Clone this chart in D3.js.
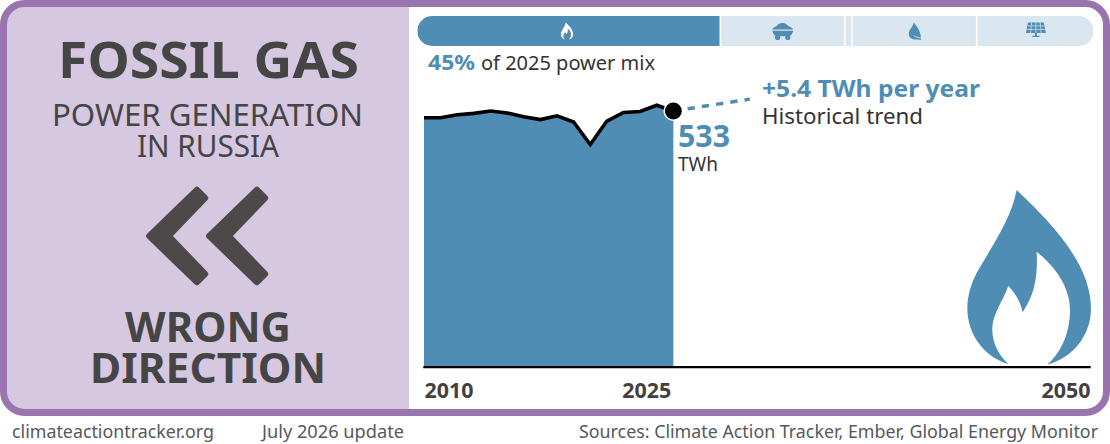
<!DOCTYPE html>
<html>
<head>
<meta charset="utf-8">
<title>Fossil gas power generation in Russia</title>
<script src="https://cdn.jsdelivr.net/npm/d3@7"></script>
<style>
  html, body { margin: 0; padding: 0; background: #fff; overflow: hidden; }
  svg { display: block; font-family: "Noto Sans", sans-serif; }
</style>
</head>
<body>
<svg id="chart" width="1110" height="444"></svg>
<script>
// gas generation, TWh
const years = [2010, 2011, 2012, 2013, 2014, 2015, 2016, 2017, 2018, 2019, 2020, 2021, 2022, 2023, 2024, 2025];
const gasValues = [519, 519, 525, 528, 533, 529, 521, 515, 523, 510, 463, 512, 530, 532, 545, 533];
const trendYears = [2025, 2029.6];
const trendValues = [533, 557.8];
const tickYears = [2010, 2025, 2050];
// power mix shares, %
const mixNames = ['gas', 'coal', 'oil', 'renewables', 'solar'];
const mixShares = [44.8, 18.4, 1.1, 18.4, 17.3];

const blue = '#4f8db5', pale = '#dbe7f0', purple = '#9a74ae', lilac = '#d6c8e0', dark = '#454545', ink = '#333';

const svg = d3.select('#chart');
const x = d3.scaleLinear().domain([2010, 2050]).range([424, 1089]);
const y = d3.scaleLinear().domain([0, 533]).range([366, 111]);
const mixX = d3.scaleLinear().domain([0, 100]).range([417.3, 1093.7]);

// flame outline, traced from the big icon
const flame = 'M230 60C215 140 165 215 115 300C95 335 82 375 82 415C82 500 140 565 205 582C170 550 155 510 157 470C160 430 190 390 205 348C225 370 240 390 248 427C275 385 295 340 290 245C345 290 390 350 390 420C390 500 355 555 322 584C395 565 453 500 453 415C453 280 330 155 230 60Z';

// helper for the fixed labels
function label(str, px, py, size, weight, fill, len, anchor) {
    return svg.append('text')
        .attr('x', px).attr('y', py)
        .attr('font-size', size).attr('font-weight', weight)
        .attr('fill', fill).attr('text-anchor', anchor || 'start')
        .attr('textLength', len).attr('lengthAdjust', 'spacingAndGlyphs')
        .text(str);
}

// frame
const defs = svg.append('defs');
defs.append('clipPath').attr('id', 'frameClip').append('rect')
    .attr('x', 3.5).attr('y', 3.5).attr('width', 1103).attr('height', 409).attr('rx', 21);
defs.append('clipPath').attr('id', 'mixClip').append('rect')
    .attr('x', 417.3).attr('y', 16).attr('width', 676.4).attr('height', 30).attr('rx', 15);

svg.append('rect').attr('x', 0).attr('y', 0).attr('width', 409).attr('height', 416)
    .attr('fill', lilac).attr('clip-path', 'url(#frameClip)');
svg.append('rect')
    .attr('x', 3.5).attr('y', 3.5).attr('width', 1103).attr('height', 409).attr('rx', 21)
    .attr('fill', 'none').attr('stroke', purple).attr('stroke-width', 7);

// left panel
label('FOSSIL GAS', 58, 78, 51, 700, dark, 301);
label('POWER GENERATION', 52, 126, 31, 400, dark, 311);
label('IN RUSSIA', 137, 157, 31, 400, dark, 142);
label('WRONG', 125, 342, 42, 700, dark, 166);
label('DIRECTION', 90, 383, 42, 700, dark, 236);

svg.append('g').selectAll('path').data([0, 60]).join('path')
    .attr('d', 'M150 236L197.5 190L205.5 198L169 236L205.5 274L197.5 282Z')
    .attr('transform', d => `translate(${d - 0.6},0)`)
    .attr('fill', '#4e4949').attr('stroke', '#4e4949')
    .attr('stroke-width', 6.5).attr('stroke-linejoin', 'round');

// power mix bar
let acc = 0;
const mixStops = mixShares.map(v => { const s = acc; acc += v; return [s, acc]; });
svg.append('g').attr('clip-path', 'url(#mixClip)')
    .selectAll('rect').data(mixStops).join('rect')
    .attr('x', d => mixX(d[0]) + (d[0] > 0 ? 0.8 : 0))
    .attr('y', 16)
    .attr('width', d => mixX(d[1]) - mixX(d[0]) - (d[0] > 0 ? 1.6 : 0.8))
    .attr('height', 30)
    .attr('fill', (d, i) => mixNames[i] === 'gas' ? blue : pale);

// mix icons
svg.append('path').attr('d', flame).attr('fill', '#fff')
    .attr('transform', 'translate(558.2,20.5) scale(0.033)');
const coal = svg.append('g').attr('fill', blue).attr('transform', 'translate(772,22)');
coal.append('path').attr('d', 'M0 7.6C1.5 4.8 4 4.8 5.5 3.2C7 .6 13 .2 15 3C17 4.6 20 5 21.4 7.6Z');
coal.append('path').attr('d', 'M.2 8.8H21.2L20.4 11C19.5 13.4 17.8 14.3 16 14.3H5.4C3.6 14.3 1.9 13.4 1 11Z');
coal.append('circle').attr('cx', 5.6).attr('cy', 15.4).attr('r', 2.6);
coal.append('circle').attr('cx', 15.8).attr('cy', 15.4).attr('r', 2.6);
svg.append('path').attr('fill', blue)
    .attr('d', 'M913.6 22.5C913.8 26 908.6 29.5 908.8 34C909 37.4 911.5 39.4 914.5 39.4C916.5 39.4 919.5 39.6 921 39.8C921.5 33 917.5 26.5 913.6 22.5Z');
svg.append('path').attr('fill', 'none').attr('stroke', pale).attr('stroke-width', 0.8)
    .attr('d', 'M913.5 35.6C915.5 37.2 918.5 37.4 921.5 38.2');
const solar = svg.append('g').attr('transform', 'translate(1026,22.5)');
solar.append('path').attr('d', 'M2 0H17.8L19.8 10.5H0Z').attr('fill', blue);
solar.append('path').attr('fill', 'none').attr('stroke', pale).attr('stroke-width', 0.7)
    .attr('d', 'M1.5 3.4H18.3M1 6.9H19M5.6 0L4.6 10.5M9.9 0V10.5M14.2 0L15.2 10.5');
solar.append('path').attr('d', 'M8.9 10.5H10.9V13.2H13.4V14.6H6.4V13.2H8.9Z').attr('fill', blue);

label('45%', 428, 70, 21, 700, blue, 47);
label('of 2025 power mix', 481, 70, 20, 400, ink, 174);

// big flame
svg.append('path').attr('d', flame).attr('fill', blue)
    .attr('transform', 'translate(940,170) scale(0.33333)');

// generation history
const rows = years.map((yr, i) => ({ yr, v: gasValues[i] }));
svg.append('path').datum(rows)
    .attr('fill', blue)
    .attr('d', d3.area().x(d => x(d.yr)).y0(y(0)).y1(d => y(d.v)));
svg.append('path').datum(rows)
    .attr('fill', 'none').attr('stroke', '#000').attr('stroke-width', 3.6)
    .attr('d', d3.line().x(d => x(d.yr)).y(d => y(d.v)));

// historical trend
svg.append('path').datum(trendYears.map((yr, i) => ({ yr, v: trendValues[i] })))
    .attr('fill', 'none').attr('stroke', blue).attr('stroke-width', 3.5)
    .attr('stroke-dasharray', '7.3 7.1')
    .attr('d', d3.line().x(d => x(d.yr)).y(d => y(d.v)));

svg.append('circle')
    .attr('cx', x(2025)).attr('cy', y(533)).attr('r', 9.2)
    .attr('fill', '#000').attr('stroke', '#fff').attr('stroke-width', 1.5);

// axis
const axis = svg.append('g').attr('transform', `translate(0,${y(0) + 0.6})`)
    .call(d3.axisBottom(x).tickValues(tickYears).tickFormat(d3.format('d')).tickSize(0).tickPadding(0));
axis.select('.domain').attr('stroke', '#000').attr('stroke-width', 2.4).attr('stroke-linecap', 'square');
axis.selectAll('text')
    .attr('y', 31).attr('dy', 0)
    .attr('font-family', '"Noto Sans", sans-serif').attr('font-size', 20.5).attr('font-weight', 700).attr('fill', '#453f3f')
    .attr('text-anchor', d => d === 2010 ? 'start' : 'end')
    .attr('dx', d => d === 2025 ? -2.5 : d === 2050 ? 1 : 0)
    .attr('textLength', 49).attr('lengthAdjust', 'spacingAndGlyphs');

// annotations
label('533', 678, 147, 31, 700, blue, 52);
label('TWh', 678, 171, 20, 400, ink, 40);
label('+5.4 TWh per year', 762, 97, 24, 700, blue, 218);
label('Historical trend', 762, 124, 21, 400, ink, 161);

// footer
label('climateactiontracker.org', 12, 437.5, 17.6, 400, '#55595c', 202);
label('July 2026 update', 262, 437.5, 17.6, 400, '#55595c', 142);
label('Sources: Climate Action Tracker, Ember, Global Energy Monitor', 579, 437.5, 17.6, 400, '#55595c', 519);
</script>
</body>
</html>
